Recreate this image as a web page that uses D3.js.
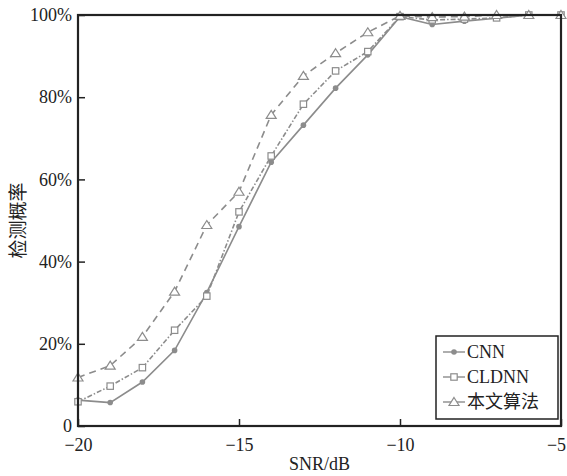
<!DOCTYPE html>
<html>
<head>
<meta charset="utf-8">
<script src="https://cdn.jsdelivr.net/npm/d3@7"></script>
<style>
  body { margin: 0; background: #fff; }
  text { font-family: "Liberation Serif", "Noto Sans CJK SC", serif; fill: #222; }
</style>
</head>
<body>
<div id="chart"></div>
<script>
const snr = [-20, -19, -18, -17, -16, -15, -14, -13, -12, -11, -10, -9, -8, -7, -6, -5];
const cnn = [6.3, 5.7, 10.7, 18.4, 32.5, 48.5, 64.2, 73.2, 82.2, 90.3, 99.6, 97.7, 98.5, 99.2, 100, 100];
const cldnn = [5.9, 9.7, 14.2, 23.3, 31.6, 52.1, 65.7, 78.3, 86.4, 91.1, 99.6, 98.8, 99.0, 99.3, 100, 100];
const ours = [11.8, 14.7, 21.7, 32.7, 48.9, 57.0, 75.7, 85.2, 90.7, 95.8, 99.8, 99.5, 99.6, 100, 100, 100];
const xTicks = [-20, -15, -10, -5];
const yTicks = [0, 20, 40, 60, 80, 100];
const seriesNames = ["CNN", "CLDNN", "本文算法"];

const width = 567, height = 476;
const margin = { top: 15, right: 6, bottom: 50, left: 78 };

const svg = d3.select("#chart").append("svg")
  .attr("width", width).attr("height", height);

const x = d3.scaleLinear().domain([-20, -5]).range([margin.left, width - margin.right]);
const y = d3.scaleLinear().domain([0, 100]).range([height - margin.bottom, margin.top]);

const gray = "#8c8c8c";
const series = [
  { name: seriesNames[0], values: cnn, dash: null, marker: "dot" },
  { name: seriesNames[1], values: cldnn, dash: "5,2,1.5,2", marker: "square" },
  { name: seriesNames[2], values: ours, dash: "7,5", marker: "tri" }
];

const line = d3.line().x((d, i) => x(snr[i])).y(d => y(d));

function drawMarker(g, type, cx, cy) {
  if (type === "dot") {
    g.append("circle").attr("cx", cx).attr("cy", cy).attr("r", 2.8).attr("fill", gray);
  } else if (type === "square") {
    g.append("rect").attr("x", cx - 3.2).attr("y", cy - 3.2).attr("width", 6.4).attr("height", 6.4)
      .attr("fill", "#fff").attr("stroke", gray).attr("stroke-width", 1.2);
  } else {
    g.append("path").attr("d", `M${cx},${cy - 4.5}L${cx + 5},${cy + 3.5}L${cx - 5},${cy + 3.5}Z`)
      .attr("fill", "#fff").attr("stroke", gray).attr("stroke-width", 1.2);
  }
}

// lines and markers
series.forEach(s => {
  svg.append("path").datum(s.values)
    .attr("d", line)
    .attr("fill", "none")
    .attr("stroke", gray)
    .attr("stroke-width", 1.6)
    .attr("stroke-dasharray", s.dash);
  const g = svg.append("g");
  s.values.forEach((v, i) => drawMarker(g, s.marker, x(snr[i]), y(v)));
});

// axes (ticks inward)
const xAxis = svg.append("g")
  .attr("transform", `translate(0,${height - margin.bottom})`)
  .call(d3.axisBottom(x).tickValues(xTicks).tickSize(-7).tickPadding(12)
    .tickFormat(d => String(d).replace("-", "\u2212")));
const yAxis = svg.append("g")
  .attr("transform", `translate(${margin.left},0)`)
  .call(d3.axisLeft(y).tickValues(yTicks).tickSize(-7).tickPadding(6)
    .tickFormat(d => d === 0 ? "0" : d + "%"));

[xAxis, yAxis].forEach(a => {
  a.select(".domain").remove();
  a.selectAll(".tick line").attr("stroke", "#222").attr("stroke-width", 1.5);
  a.selectAll(".tick text").attr("font-size", 18).attr("fill", "#222")
    .style("font-family", "'Liberation Serif', serif");
});
// last x label sits against the page edge
xAxis.selectAll(".tick text").filter(d => d === -5).attr("dx", -5);

// frame
svg.append("rect")
  .attr("x", margin.left).attr("y", margin.top)
  .attr("width", width - margin.left - margin.right)
  .attr("height", height - margin.top - margin.bottom)
  .attr("fill", "none").attr("stroke", "#222").attr("stroke-width", 2.2);

// axis titles
svg.append("text")
  .attr("x", (margin.left + width - margin.right) / 2)
  .attr("y", 470)
  .attr("text-anchor", "middle")
  .attr("font-size", 18)
  .text("SNR/dB");

svg.append("text")
  .attr("transform", `translate(25,${(margin.top + height - margin.bottom) / 2}) rotate(-90)`)
  .attr("text-anchor", "middle")
  .attr("font-size", 19)
  .style("font-family", "'Noto Sans CJK SC', sans-serif")
  .text("检测概率");

// legend
const legend = svg.append("g");
legend.append("rect")
  .attr("x", 436).attr("y", 336).attr("width", 122).attr("height", 83)
  .attr("fill", "#fff").attr("stroke", "#222").attr("stroke-width", 1.5);
series.forEach((s, i) => {
  const ly = 352 + i * 25;
  legend.append("line")
    .attr("x1", 443).attr("x2", 465).attr("y1", ly).attr("y2", ly)
    .attr("stroke", gray).attr("stroke-width", 1.4);
  drawMarker(legend, s.marker, 454, ly);
  legend.append("text")
    .attr("x", 467).attr("y", ly + 6)
    .attr("font-size", 18)
    .text(s.name);
});
</script>
</body>
</html>
